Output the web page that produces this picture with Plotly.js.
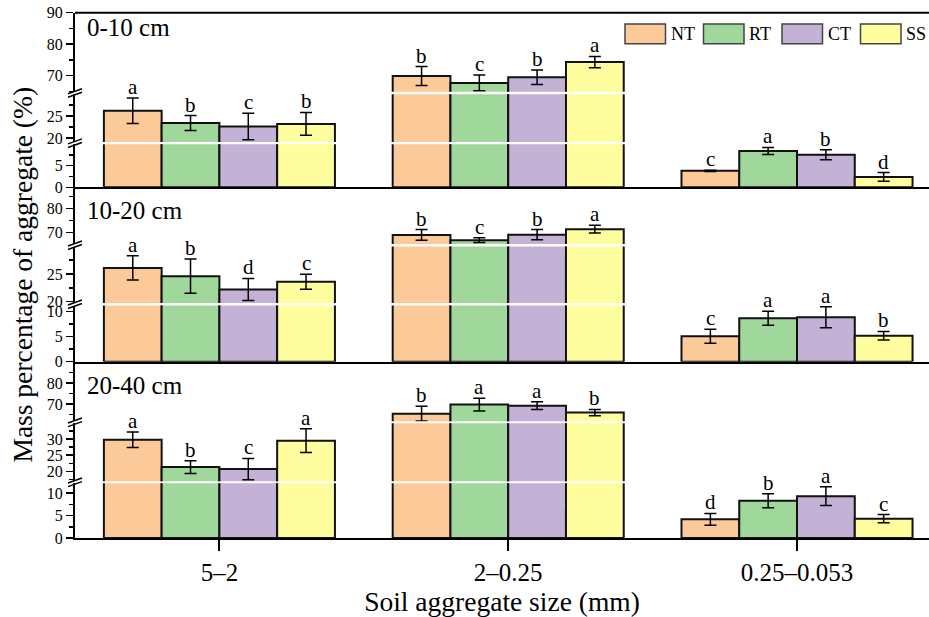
<!DOCTYPE html>
<html>
<head>
<meta charset="utf-8">
<script src="https://cdn.plot.ly/plotly-3.0.1.min.js"></script>
<style>html,body{margin:0;padding:0;background:#fff;}#chart{width:929px;height:617px;}</style>
</head>
<body>
<div id="chart"></div>
<script>
// ---------------- DATA ----------------
const sizes = ['5–2', '2–0.25', '0.25–0.053'];
const depths = ['0-10 cm', '10-20 cm', '20-40 cm'];
const treatments = ['NT', 'RT', 'CT', 'SS'];

// mean mass percentage (%) per treatment [NT, RT, CT, SS], each over sizes
const mean0_10  = [[26.2, 69.9, 3.8], [23.4, 67.7, 8.4], [22.6, 69.5, 7.5], [23.2, 74.3, 2.4]];
const err0_10   = [[2.9, 3.0, 0.15], [1.7, 2.5, 0.8], [3.0, 2.3, 1.15], [2.6, 1.8, 1.0]];
const sig0_10   = [['a', 'b', 'c'], ['b', 'c', 'a'], ['c', 'b', 'b'], ['b', 'a', 'd']];

const mean10_20 = [[26.1, 68.9, 5.1], [24.6, 66.7, 8.7], [22.2, 69.0, 8.9], [23.6, 71.3, 5.2]];
const err10_20  = [[2.2, 2.2, 1.4], [3.1, 1.0, 1.4], [2.0, 2.1, 2.1], [1.35, 1.6, 0.85]];
const sig10_20  = [['a', 'b', 'c'], ['b', 'c', 'a'], ['d', 'b', 'a'], ['c', 'a', 'b']];

const mean20_40 = [[29.8, 65.5, 4.15], [21.3, 69.8, 8.3], [20.7, 69.3, 9.3], [29.5, 66.0, 4.3]];
const err20_40  = [[2.4, 3.5, 1.3], [1.95, 3.0, 1.55], [3.3, 1.8, 2.1], [3.7, 1.5, 0.9]];
const sig20_40  = [['a', 'b', 'd'], ['b', 'a', 'b'], ['c', 'a', 'a'], ['a', 'b', 'c']];

// ---------------- STYLE / LAYOUT CONSTANTS ----------------
const colors = ['#FBCA98', '#A0D89C', '#C3B1D6', '#FFFE9E'];
const FONT = '"Liberation Serif", "Times New Roman", serif';
const W = 929, H = 617, ML = 75, MR = 0, MT = 0, MB = 79;
const plotW = W - ML - MR, plotH = H - MT - MB;
const py = v => (H - MB - v) / plotH;     // pixel row -> paper y
const pxx = v => (v - ML) / plotW;         // pixel col -> paper x
const BARGAP = 0.2;
const slot = (1 - BARGAP) / treatments.length;

// segments per panel: [bottom, middle, top] -> pixel rows [top, bottom], axis range, dtick
const segs = [
  [ {px: [144.3, 187.3], r: [0, 9.93], d: 5},
    {px: [94.3, 142],    r: [19.09, 29.93], d: 5},
    {px: [12.7, 91.7],   r: [64.9, 90], d: 10} ],
  [ {px: [305.5, 361.7], r: [0, 11.24], d: 5},
    {px: [246.5, 303],   r: [19.76, 29.97], d: 5},
    {px: [187.3, 244],   r: [65.1, 88.75], d: 10} ],
  [ {px: [483.3, 538],   r: [0, 12.16], d: 5},
    {px: [423.3, 481.3], r: [16.9, 34.9], d: 5},
    {px: [362, 421.3],   r: [61.9, 89.9], d: 10} ]
];
const panelLabelY = [28, 210, 385];

const means = [mean0_10, mean10_20, mean20_40];
const errs = [err0_10, err10_20, err20_40];
const sigs = [sig0_10, sig10_20, sig20_40];

const traces = [];
const annotations = [];
const shapes = [];
const layout = {
  width: W, height: H,
  margin: {l: ML, r: MR, t: MT, b: MB},
  paper_bgcolor: '#fff', plot_bgcolor: 'rgba(0,0,0,0)',
  barmode: 'group', bargap: BARGAP, bargroupgap: 0,
  showlegend: false,
  font: {family: FONT, color: '#000'}
};

const xIdx = [0, 1, 2];
for (let p = 0; p < 3; p++) {
  const xName = p === 0 ? 'x' : 'x' + (p + 1);
  const xKey = p === 0 ? 'xaxis' : 'xaxis' + (p + 1);
  const bottomAxisNum = p * 3 + 1;
  const isLast = p === 2;
  layout[xKey] = {
    domain: [0, 1], range: [-0.5, 2.457],
    anchor: bottomAxisNum === 1 ? 'y' : 'y' + bottomAxisNum,
    showline: true, linecolor: '#000', linewidth: 2,
    showgrid: false, zeroline: false,
    tickmode: 'array', tickvals: xIdx, ticktext: sizes,
    ticks: isLast ? 'outside' : '', ticklen: 11, tickwidth: 2, tickcolor: '#000',
    showticklabels: isLast,
    tickfont: {family: FONT, size: 25, color: '#000'}
  };
  if (isLast) {
    layout[xKey].title = {text: 'Soil aggregate size (mm)', font: {family: FONT, size: 27.5, color: '#000'}, standoff: 4};
  }
  for (let s = 0; s < 3; s++) {
    const n = p * 3 + s + 1;
    const yName = n === 1 ? 'y' : 'y' + n;
    const yKey = n === 1 ? 'yaxis' : 'yaxis' + n;
    const sg = segs[p][s];
    layout[yKey] = {
      domain: [py(sg.px[1]), py(sg.px[0])],
      range: sg.r, anchor: xName,
      showline: true, linecolor: '#000', linewidth: 2,
      showgrid: false, zeroline: false,
      tickmode: 'linear', tick0: 0, dtick: sg.d,
      ticks: 'outside', ticklen: 7, tickwidth: 1.5, tickcolor: '#000',
      minor: {tick0: 0, dtick: sg.d / 2, ticks: 'outside', ticklen: 4, tickwidth: 1.5, tickcolor: '#000'},
      tickfont: {family: FONT, size: 16, color: '#000'}
    };
    if (p === 1 && s === 1) {
      layout[yKey].title = {text: 'Mass percentage of aggregate (%)', font: {family: FONT, size: 27.5, color: '#000'}, standoff: 6};
    }
    for (let k = 0; k < treatments.length; k++) {
      traces.push({
        type: 'bar', name: treatments[k], offsetgroup: treatments[k],
        x: xIdx, y: means[p][k],
        xaxis: xName, yaxis: yName,
        marker: {color: colors[k], line: {color: '#111', width: 2}},
        error_y: {type: 'data', array: errs[p][k], visible: true, color: '#000', thickness: 1.5, width: 6},
        cliponaxis: true, hoverinfo: 'skip', showlegend: false
      });
    }
  }
  // significance letters
  for (let k = 0; k < treatments.length; k++) {
    for (let i = 0; i < sizes.length; i++) {
      const top = means[p][k][i] + errs[p][k][i];
      let sIdx = 0;
      for (let s = 0; s < 3; s++) { if (top >= segs[p][s].r[0]) sIdx = s; }
      const n = p * 3 + sIdx + 1;
      annotations.push({
        x: xIdx[i] + (k - (treatments.length - 1) / 2) * slot, xref: xName,
        y: top, yref: n === 1 ? 'y' : 'y' + n,
        text: sigs[p][k][i], showarrow: false, yanchor: 'bottom', yshift: -3,
        font: {family: FONT, size: 21, color: '#000'}
      });
    }
  }
  // panel label
  annotations.push({
    x: pxx(85), xref: 'paper', y: py(panelLabelY[p]), yref: 'paper',
    xanchor: 'left', yanchor: 'middle', showarrow: false, text: depths[p],
    font: {family: FONT, size: 25, color: '#000'}
  });
  // break marks
  for (let s = 0; s < 2; s++) {
    const yc = (segs[p][s].px[0] + segs[p][s + 1].px[1]) / 2;
    for (const off of [1.8, -1.8]) {
      shapes.push({type: 'line', xref: 'paper', yref: 'paper',
        x0: pxx(68), y0: py(yc + off + 2.5), x1: pxx(82), y1: py(yc + off - 2.5),
        line: {color: '#000', width: 1.5}});
    }
  }
}
// top frame line of first panel
shapes.push({type: 'line', xref: 'paper', yref: 'paper', x0: 0, x1: 1,
  y0: py(segs[0][2].px[0]), y1: py(segs[0][2].px[0]), line: {color: '#000', width: 2}});

// custom legend
const legX0 = 625, legStep = 78.5, boxW = 40.5, boxTop = 24, boxBot = 43.7;
for (let k = 0; k < treatments.length; k++) {
  const x0 = legX0 + k * legStep;
  shapes.push({type: 'rect', xref: 'paper', yref: 'paper',
    x0: pxx(x0), x1: pxx(x0 + boxW), y0: py(boxBot), y1: py(boxTop),
    fillcolor: colors[k], line: {color: '#444', width: 1.5}});
  annotations.push({x: pxx(x0 + boxW + 3), xref: 'paper', y: py((boxTop + boxBot) / 2), yref: 'paper',
    xanchor: 'left', yanchor: 'middle', showarrow: false, text: treatments[k],
    font: {family: FONT, size: 18, color: '#000'}});
}

layout.annotations = annotations;
layout.shapes = shapes;

Plotly.newPlot('chart', traces, layout, {staticPlot: true, displayModeBar: false});
</script>
</body>
</html>
